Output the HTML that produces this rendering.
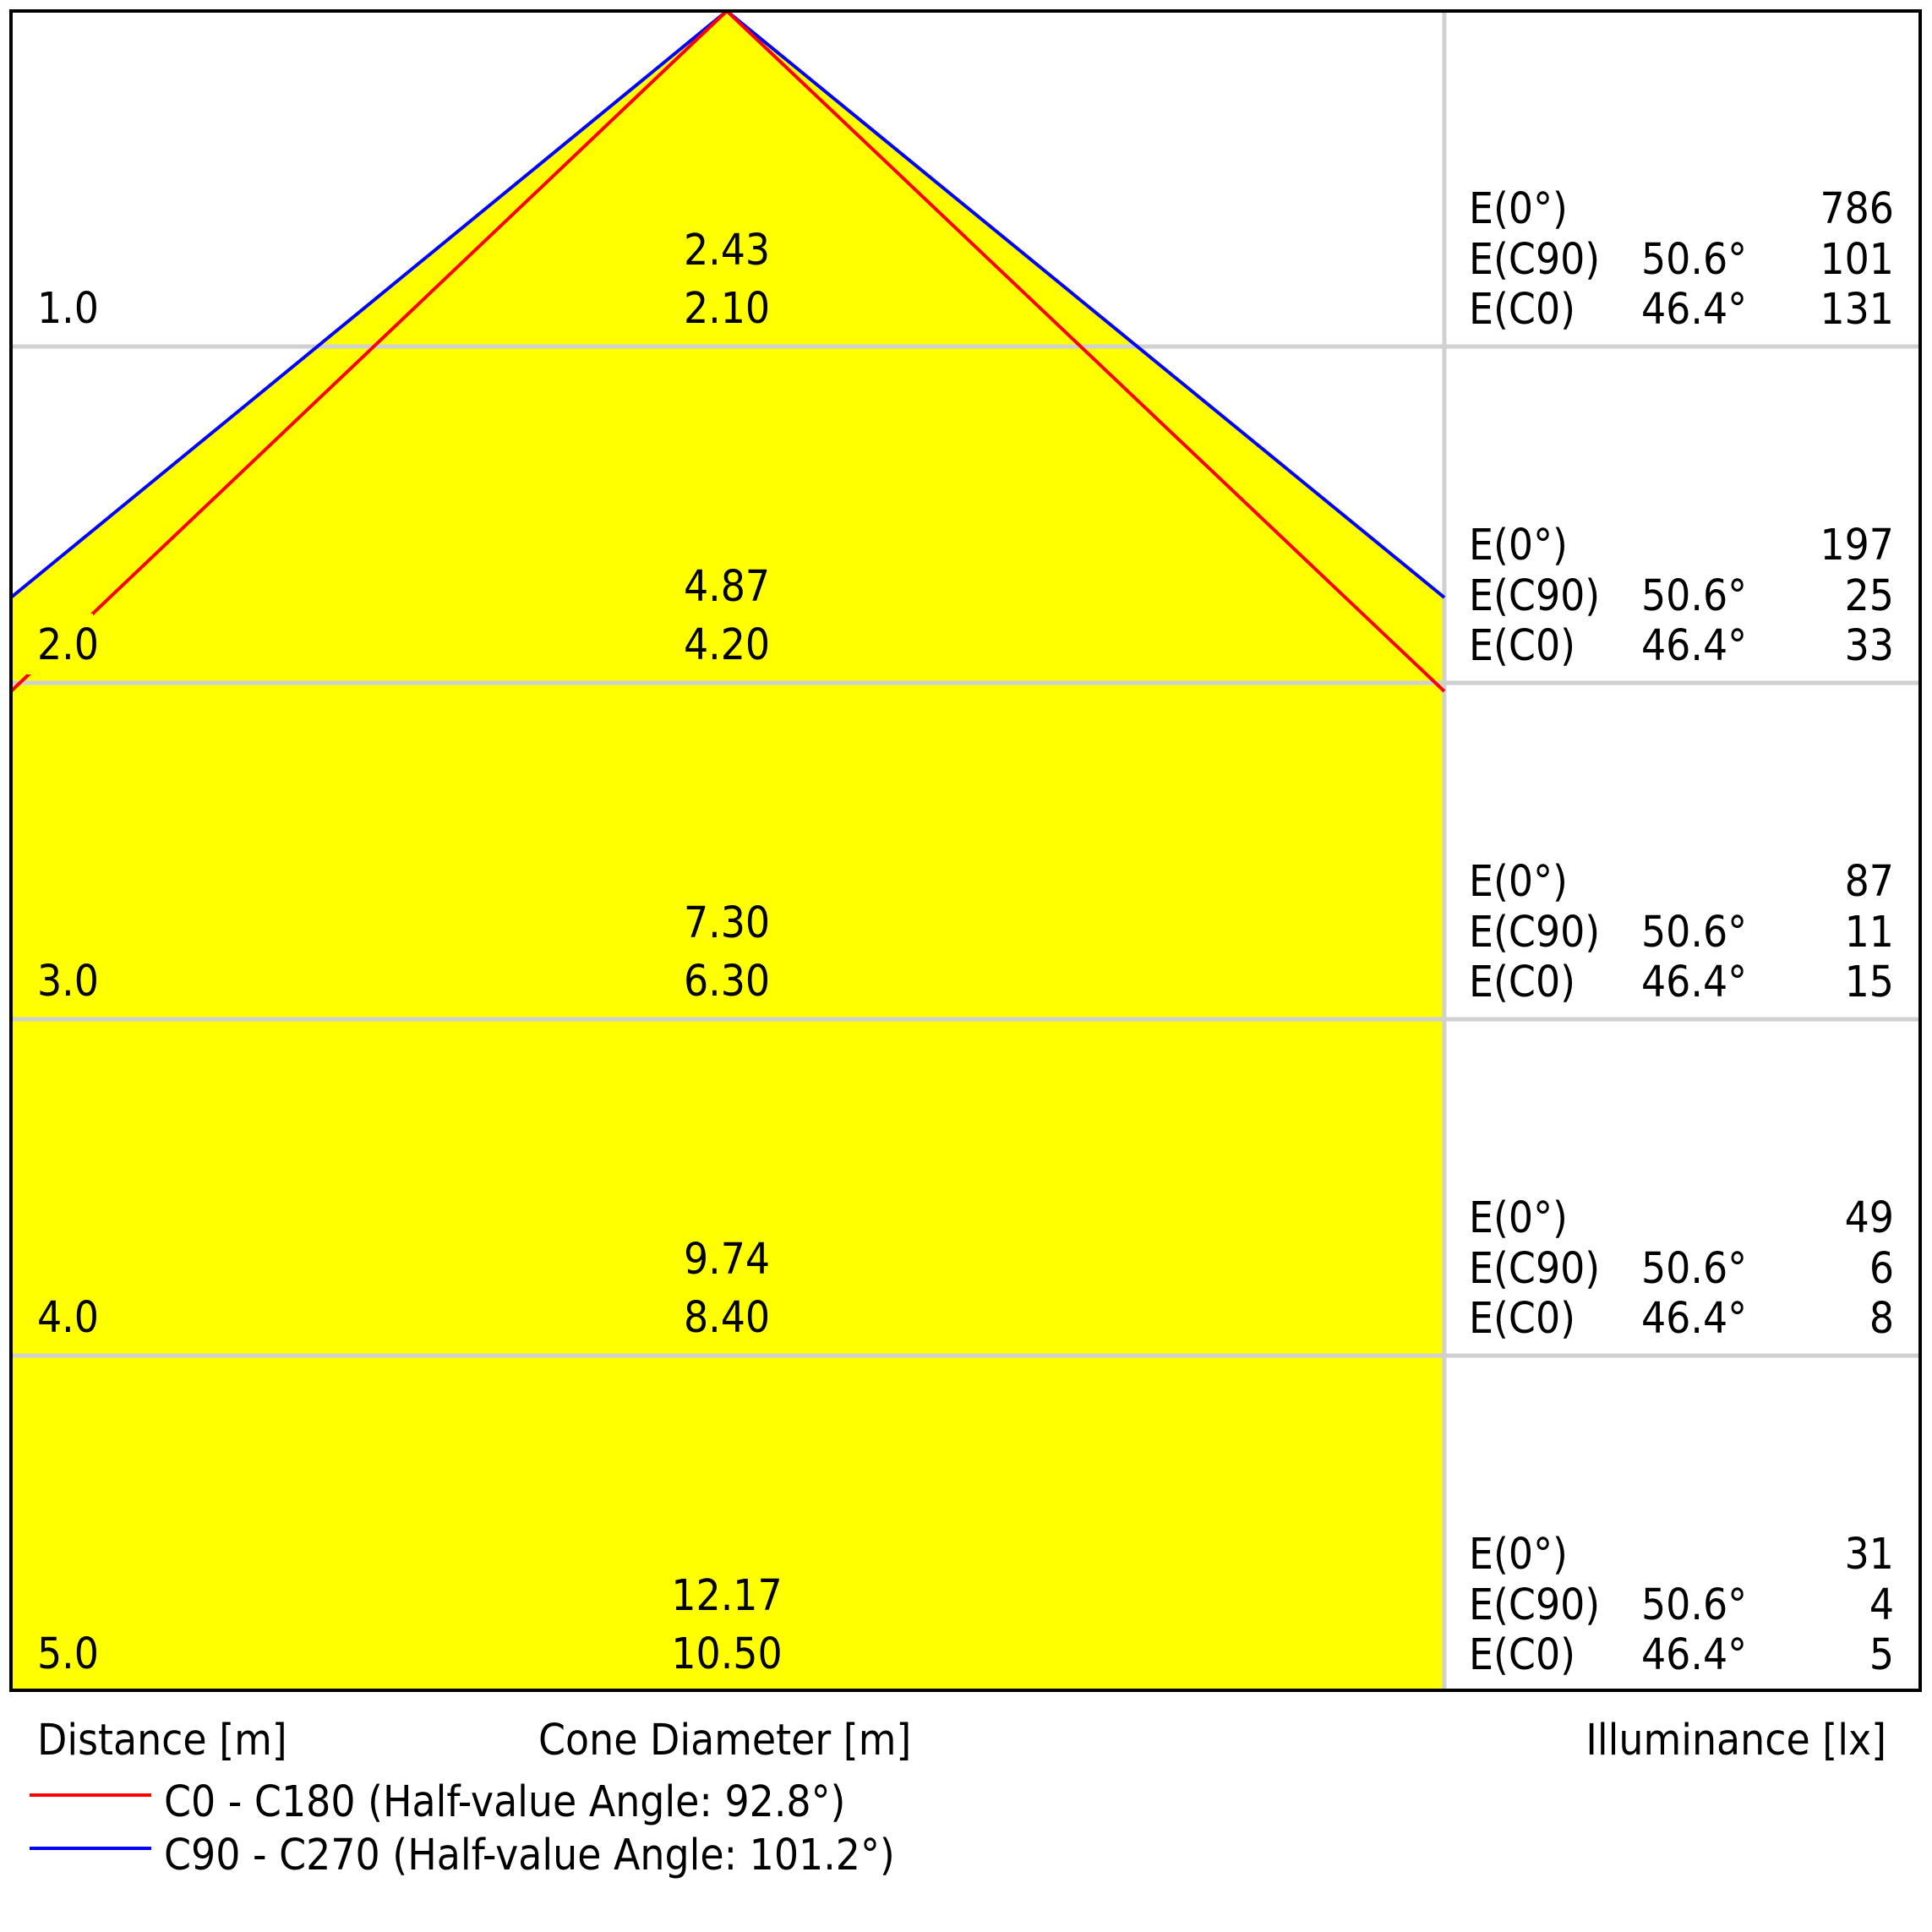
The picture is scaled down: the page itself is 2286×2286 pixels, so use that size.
<!DOCTYPE html>
<html><head><meta charset="utf-8"><style>html,body{margin:0;padding:0;background:#fff}svg{display:block}</style></head>
<body>
<svg width="2286" height="2286" viewBox="0 0 2286 2286" xmlns="http://www.w3.org/2000/svg" font-family="'DejaVu Sans Condensed', 'DejaVu Sans', sans-serif" font-size="51" fill="#000">
<rect x="0" y="0" width="2286" height="2286" fill="#fff"/>
<polygon points="13,707 860,13 1709,707 1709,2000 13,2000" fill="#ffff00"/>
<g stroke="#d0d0d0" stroke-width="5">
<line x1="13" y1="410" x2="2272" y2="410"/>
<line x1="13" y1="808" x2="2272" y2="808"/>
<line x1="13" y1="1206" x2="2272" y2="1206"/>
<line x1="13" y1="1604" x2="2272" y2="1604"/>
<line x1="1709" y1="13" x2="1709" y2="2000"/>
</g>
<line x1="13" y1="707" x2="860" y2="13" stroke="#0000ff" stroke-width="4"/>
<line x1="860" y1="13" x2="1709" y2="707" stroke="#0000ff" stroke-width="4"/>
<line x1="13" y1="818" x2="860" y2="13" stroke="#ff0000" stroke-width="4"/>
<line x1="860" y1="13" x2="1709" y2="818" stroke="#ff0000" stroke-width="4"/>
<rect x="32" y="726" width="78" height="72" fill="#ffff00"/>
<rect x="13" y="13" width="2259" height="1987" fill="none" stroke="#000" stroke-width="4"/>
<g>
<text x="44" y="382">1.0</text><text x="44" y="780">2.0</text><text x="44" y="1178">3.0</text><text x="44" y="1576">4.0</text><text x="44" y="1974">5.0</text>
</g>
<g text-anchor="middle">
<text x="860" y="313">2.43</text><text x="860" y="382">2.10</text>
<text x="860" y="711">4.87</text><text x="860" y="780">4.20</text>
<text x="860" y="1109">7.30</text><text x="860" y="1178">6.30</text>
<text x="860" y="1507">9.74</text><text x="860" y="1576">8.40</text>
<text x="860" y="1905">12.17</text><text x="860" y="1974">10.50</text>
</g>
<g>
<text x="1738" y="264">E(0°)</text><text x="1738" y="324">E(C90)</text><text x="1738" y="383">E(C0)</text>
<text x="1942" y="324">50.6°</text><text x="1942" y="383">46.4°</text>
<text x="1738" y="662">E(0°)</text><text x="1738" y="722">E(C90)</text><text x="1738" y="781">E(C0)</text>
<text x="1942" y="722">50.6°</text><text x="1942" y="781">46.4°</text>
<text x="1738" y="1060">E(0°)</text><text x="1738" y="1120">E(C90)</text><text x="1738" y="1179">E(C0)</text>
<text x="1942" y="1120">50.6°</text><text x="1942" y="1179">46.4°</text>
<text x="1738" y="1458">E(0°)</text><text x="1738" y="1518">E(C90)</text><text x="1738" y="1577">E(C0)</text>
<text x="1942" y="1518">50.6°</text><text x="1942" y="1577">46.4°</text>
<text x="1738" y="1856">E(0°)</text><text x="1738" y="1916">E(C90)</text><text x="1738" y="1975">E(C0)</text>
<text x="1942" y="1916">50.6°</text><text x="1942" y="1975">46.4°</text>
</g>
<g text-anchor="end">
<text x="2241" y="264">786</text><text x="2241" y="324">101</text><text x="2241" y="383">131</text>
<text x="2241" y="662">197</text><text x="2241" y="722">25</text><text x="2241" y="781">33</text>
<text x="2241" y="1060">87</text><text x="2241" y="1120">11</text><text x="2241" y="1179">15</text>
<text x="2241" y="1458">49</text><text x="2241" y="1518">6</text><text x="2241" y="1577">8</text>
<text x="2241" y="1856">31</text><text x="2241" y="1916">4</text><text x="2241" y="1975">5</text>
</g>
<text x="44" y="2076">Distance [m]</text>
<text x="637" y="2076">Cone Diameter [m]</text>
<text x="2232" y="2076" text-anchor="end">Illuminance [lx]</text>
<line x1="35" y1="2124" x2="179" y2="2124" stroke="#ff0000" stroke-width="4"/>
<text x="194" y="2149">C0 - C180 (Half-value Angle: 92.8°)</text>
<line x1="35" y1="2187" x2="179" y2="2187" stroke="#0000ff" stroke-width="4"/>
<text x="194" y="2212">C90 - C270 (Half-value Angle: 101.2°)</text>
</svg>
</body></html>
